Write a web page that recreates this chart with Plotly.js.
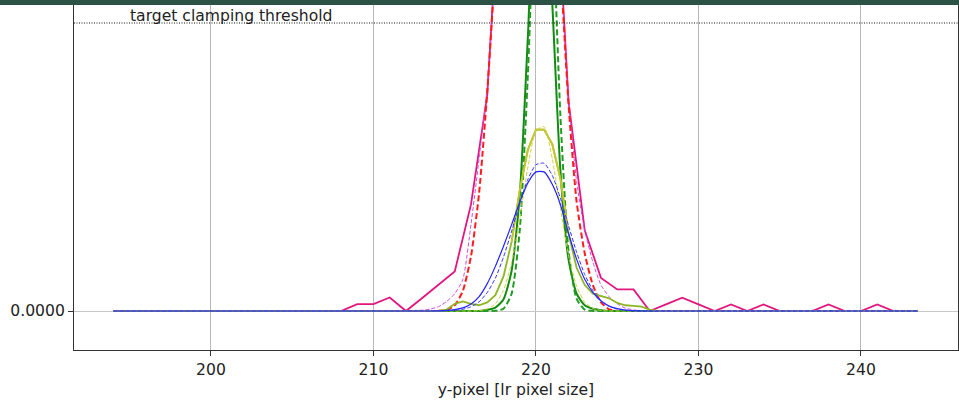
<!DOCTYPE html>
<html>
<head>
<meta charset="utf-8">
<script src="https://cdn.plot.ly/plotly-3.0.1.min.js"></script>
<style>
  html, body { margin: 0; padding: 0; background: #ffffff; }
  #wrap { position: relative; width: 959px; height: 401px; }
  #band { position: absolute; left: 0; top: 0; width: 959px; height: 5px; background: #2b5245; z-index: 10; }
  #chart { position: absolute; left: 0; top: 0; width: 959px; height: 401px; }
</style>
</head>
<body>
<div id="wrap"><div id="chart"></div><div id="band"></div></div>
<script>
// ---- data ----
const threshold = 1.0;
const thresholdLabel = "target clamping threshold";
const xTickVals = [200, 210, 220, 230, 240];
const yTickVals = [0];
const yTickText = ["0.0000"];

// integer-pixel profile (noisy, solid magenta)
const xInt = [194,195,196,197,198,199,200,201,202,203,204,205,206,207,208,209,210,211,212,213,214,215,216,217,218,219,220,221,222,223,224,225,226,227,228,229,230,231,232,233,234,235,236,237,238,239,240,241,242,243];
const magentaSolid = [0,0,0,0,0,0,0,0,0,0,0,0,0,0,0,0.024,0.024,0.047,0,0.045,0.09,0.137,0.37,0.75,1.7,2.3,2.3,1.76,0.73,0.28,0.115,0.075,0.075,0,0.023,0.046,0.023,0,0.023,0,0.023,0,0,0,0.023,0,0,0.023,0,0];

// half-pixel profiles
const xFine = [194,213,213.5,214,214.5,215,215.5,216,216.5,217,217.5,218,218.5,219,219.5,220,220.5,221,221.5,222,222.5,223,223.5,224,224.5,225,225.5,226,226.5,227,227.5,243.5];
const violetDash = [0,0.003,0.007,0.015,0.033,0.06,0.11,0.3,0.53,0.78,1.2,1.5,1.75,1.88,1.9,1.85,1.7,1.5,1.2,0.75,0.45,0.28,0.17,0.09,0.05,0.025,0.01,0.004,0.001,0,0,0];
const redDash = [0,0,0,0.0005,0.003,0.02,0.07,0.19,0.41,0.76,1.2,1.6,1.95,2.2,2.3,2.2,1.95,1.6,1.2,0.72,0.38,0.2,0.09,0.03,0.006,0.001,0,0,0,0,0,0];
const greenSolid = [0,0,0,0,0,0,0,0,0,0.004,0.012,0.04,0.14,0.4,0.95,1.49,1.55,1.07,0.49,0.18,0.06,0.02,0.008,0.003,0,0,0,0,0,0,0,0];
const greenDash = [0,0,0,0,0,0,0,0,0,0,0.0007,0.008,0.06,0.28,0.82,1.54,1.84,1.4,0.68,0.21,0.042,0.005,0.0004,0,0,0,0,0,0,0,0,0];
const oliveSolid = [0,0,0,0,0.005,0.025,0.033,0.025,0.02,0.03,0.055,0.12,0.24,0.42,0.56,0.63,0.63,0.58,0.46,0.27,0.15,0.09,0.06,0.053,0.044,0.028,0.02,0.018,0.015,0.005,0,0];
const yellowSolid = [null,null,null,null,null,null,null,null,null,null,null,null,0.24,0.42,0.56,0.63,0.63,0.58,0.46,0.27,null,null,null,null,null,null,null,null,null,null,null,null];
const yellowDash = [0,0,0,0,0,0,0,0,0.0016,0.007,0.025,0.072,0.168,0.32,0.5,0.626,0.64,0.53,0.357,0.195,0.086,0.031,0.009,0.002,0,0,0,0,0,0,0,0];
const blueSolid = [0,0,0,0.0007,0.002,0.005,0.011,0.024,0.05,0.095,0.155,0.225,0.3,0.378,0.445,0.483,0.483,0.44,0.37,0.27,0.18,0.11,0.065,0.035,0.017,0.008,0.003,0.001,0,0,0,0];
const blueDash = [0,0,0,0.0003,0.0008,0.0023,0.006,0.0147,0.032,0.064,0.114,0.187,0.277,0.374,0.457,0.508,0.513,0.471,0.392,0.297,0.204,0.127,0.072,0.037,0.017,0.0074,0.003,0.001,0,0,0,0];

// ---- traces ----
function tr(x, y, color, width, dash, smooth) {
  return {
    x: x, y: y, type: 'scatter', mode: 'lines', hoverinfo: 'skip', showlegend: false,
    line: { color: color, width: width, dash: dash || 'solid', shape: smooth ? 'spline' : 'linear', smoothing: smooth ? 0.6 : undefined }
  };
}
const traces = [
  tr(xInt, magentaSolid, '#e2167f', 1.8, 'solid', false),
  tr(xFine, violetDash, '#cc4fdc', 1.0, '4px,2px', true),
  tr(xFine, redDash, '#ff1c1c', 2.0, '6px,3px', true),
  tr(xFine, greenSolid, '#138a13', 2.0, 'solid', true),
  tr(xFine, greenDash, '#239b23', 2.0, '6px,3px', true),
  tr(xFine, oliveSolid, '#8fb524', 1.8, 'solid', false),
  tr(xFine, yellowSolid, '#c6c62a', 1.8, 'solid', false),
  tr(xFine, yellowDash, '#d2d23c', 1.0, '4px,2px', true),
  tr(xFine, blueSolid, '#2323ff', 1.2, 'solid', true),
  tr(xFine, blueDash, '#3434ff', 1.0, '4px,2px', true)
];

const font = { family: 'DejaVu Sans, sans-serif', size: 15.6, color: '#222222' };

const layout = {
  width: 959, height: 401,
  margin: { l: 74, r: 1, t: 0, b: 51, pad: 0 },
  paper_bgcolor: '#ffffff', plot_bgcolor: '#ffffff',
  font: font,
  xaxis: {
    range: [191.57, 245.97], tickmode: 'array', tickvals: xTickVals,
    showgrid: true, gridcolor: '#b8b8b8', gridwidth: 1, zeroline: false,
    showline: true, linecolor: '#333333', linewidth: 1, mirror: false,
    ticks: 'outside', ticklen: 5, tickcolor: '#333333', tickwidth: 1,
    tickfont: font, automargin: false,
    title: { text: 'y-pixel [lr pixel size]', font: font, standoff: 6 }
  },
  yaxis: {
    range: [-0.1354, 1.0799], tickmode: 'array', tickvals: yTickVals, ticktext: yTickText,
    showgrid: true, gridcolor: '#c8c8c8', gridwidth: 1, zeroline: false,
    showline: true, linecolor: '#333333', linewidth: 1, mirror: true,
    ticks: 'outside', ticklen: 5, tickcolor: '#333333', tickwidth: 1,
    tickfont: font, automargin: false
  },
  shapes: [{
    type: 'line', xref: 'paper', x0: 0, x1: 1, yref: 'y', y0: threshold, y1: threshold,
    line: { color: '#111111', width: 1, dash: '1px,1.5px' }, layer: 'above'
  }],
  annotations: [{
    text: thresholdLabel, xref: 'x', yref: 'y', x: 194.95, y: threshold,
    xanchor: 'left', yanchor: 'bottom', showarrow: false, font: font, borderpad: 0, yshift: -3
  }]
};

Plotly.newPlot('chart', traces, layout, { staticPlot: true, displayModeBar: false });
</script>
</body>
</html>
